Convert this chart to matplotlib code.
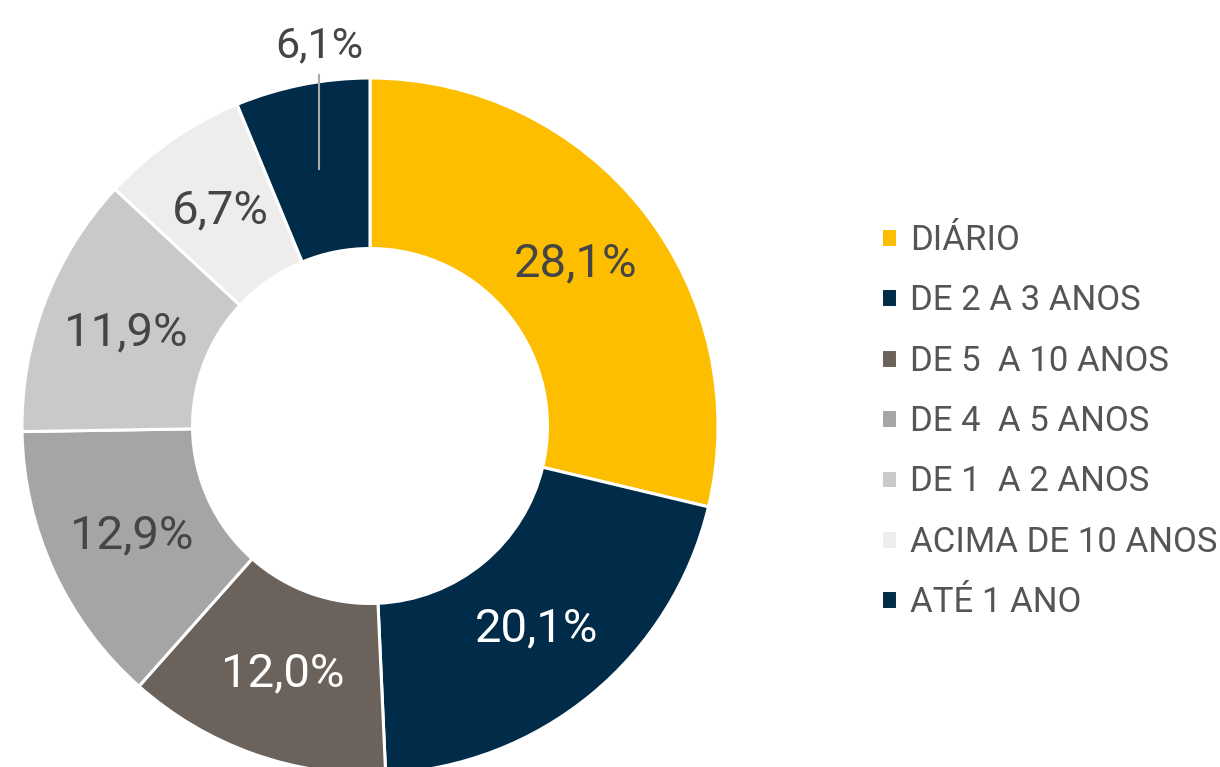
import numpy as np
from matplotlib import pyplot as plt

plt.rcParams['font.family'] = ['Roboto', 'DejaVu Sans']

# Data
categories = ['DIÁRIO', 'DE 2 A 3 ANOS', 'DE 5  A 10 ANOS', 'DE 4  A 5 ANOS',
              'DE 1  A 2 ANOS', 'ACIMA DE 10 ANOS', 'ATÉ 1 ANO']
values = [28.1, 20.1, 12.0, 12.9, 11.9, 6.7, 6.1]
labels = ['28,1%', '20,1%', '12,0%', '12,9%', '11,9%', '6,7%', '6,1%']
colors = ['#FDBE00', '#002B49', '#6B625B', '#A5A5A5', '#C8C9CB', '#EEEDEC', '#002B49']
text_colors = ['#454545', 'white', 'white', '#454545', '#454545', '#454545', '#454545']

W, H = 1220, 767
fig = plt.figure(figsize=(W / 100, H / 100), dpi=100)
ax = fig.add_axes([0, 0, 1, 1])

cx, cy, R = 370, H - 426, 348
wedges, _ = ax.pie(values, colors=colors, startangle=90, counterclock=False,
                   center=(cx, cy), radius=R, frame=True,
                   wedgeprops=dict(width=R * 0.49, edgecolor='white', linewidth=2.2))
ax.set_xlim(0, W)
ax.set_ylim(0, H)
ax.set_aspect('equal')
ax.axis('off')

r_lab = R * 0.753
for i, w in enumerate(wedges):
    ang = np.deg2rad((w.theta1 + w.theta2) / 2)
    x = cx + r_lab * np.cos(ang)
    y = cy + r_lab * np.sin(ang)
    if i == len(wedges) - 1:
        # small slice: label outside with a leader line
        ax.plot([x, x], [y, cy + R + 3], color='#AAAAAA', lw=1.5, zorder=5)
        ax.text(x, cy + R + 32, labels[i], ha='center', va='center',
                fontsize=31, color=text_colors[i])
    else:
        ax.text(x, y, labels[i], ha='center', va='center',
                fontsize=34, color=text_colors[i])

fig.legend(wedges, categories, loc='center left', bbox_to_anchor=(0.722, 0.4505),
           frameon=False, handlelength=0.46, handleheight=0.46,
           handletextpad=0.37, labelspacing=0.79, borderpad=0, borderaxespad=0,
           labelcolor='#555555', prop=dict(family='Roboto', size=25))

fig.savefig('out.png', dpi=100)
